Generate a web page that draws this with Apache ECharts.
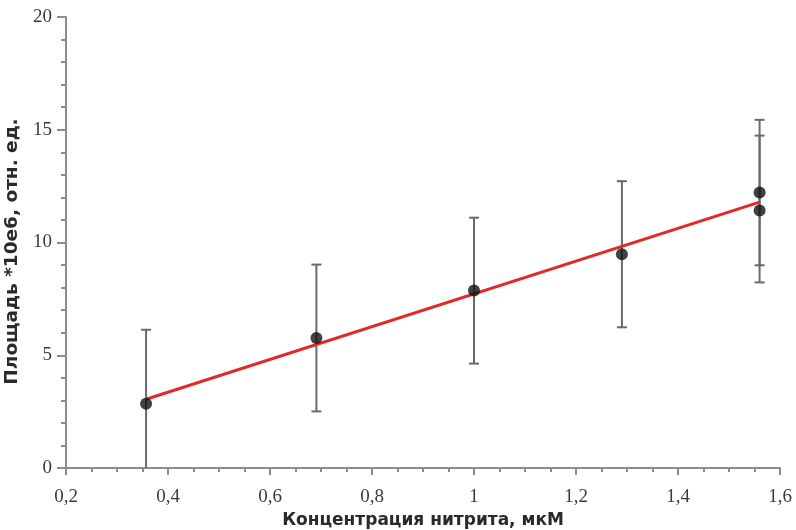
<!DOCTYPE html>
<html>
<head>
<meta charset="utf-8">
<script src="https://cdn.jsdelivr.net/npm/echarts@6/dist/echarts.min.js"></script>
<style>
  html, body { margin: 0; padding: 0; background: #fff; }
  #chart { width: 796px; height: 530px; }
</style>
</head>
<body>
<div id="chart"></div>
<script>
// measured points (concentration, area) with error bar ends
const concX = [0.357, 0.691, 1.0, 1.29, 1.56, 1.56];
const areaY = [2.85, 5.76, 7.87, 9.48, 12.22, 11.42];
const errTop = [6.13, 9.02, 11.1, 12.72, 15.44, 14.74];
const errBottom = [-0.4, 2.51, 4.63, 6.24, 8.99, 8.23];

// fitted line ends
const fitX = [0.357, 1.56];
const fitY = [3.05, 11.79];

const xTicks = { min: 0.2, max: 1.6, step: 0.2 };
const yTicks = { min: 0, max: 20, step: 5 };

const axisColor = '#8c8c8c';
const labelFont = 'Liberation Serif';

const chart = echarts.init(document.getElementById('chart'));

const fmt = v => String(+v.toFixed(1)).replace('.', ',');

const option = {
    animation: false,
    grid: { left: 66, right: 16, top: 17, bottom: 62, outerBoundsMode: 'none', containLabel: false },
    xAxis: {
        type: 'value',
        min: xTicks.min,
        max: xTicks.max,
        interval: xTicks.step,
        name: 'Концентрация нитрита, мкМ',
        nameLocation: 'middle',
        nameGap: 44,
        nameTextStyle: { fontFamily: 'DejaVu Sans', fontWeight: 'bold', fontSize: 17, color: '#2a2a2a' },
        axisLine: { lineStyle: { color: axisColor, width: 2 } },
        axisTick: { length: 7, lineStyle: { color: axisColor, width: 2 } },
        minorTick: { show: true, splitNumber: 4, length: 4, lineStyle: { color: axisColor, width: 2 } },
        splitLine: { show: false },
        axisLabel: { margin: 20, fontFamily: labelFont, fontSize: 19, color: '#3a3a3a', formatter: fmt }
    },
    yAxis: {
        type: 'value',
        min: yTicks.min,
        max: yTicks.max,
        interval: yTicks.step,
        name: 'Площадь *10е6, отн. ед.',
        nameLocation: 'middle',
        nameGap: 38,
        nameTextStyle: { fontFamily: 'DejaVu Sans', fontWeight: 'bold', fontSize: 18.5, color: '#2a2a2a', padding: [0, 18, 0, 0] },
        axisLine: { show: true, lineStyle: { color: axisColor, width: 2 } },
        axisTick: { show: true, length: 9, lineStyle: { color: axisColor, width: 2 } },
        minorTick: { show: true, splitNumber: 5, length: 5, lineStyle: { color: axisColor, width: 2 } },
        splitLine: { show: false },
        axisLabel: { margin: 14, fontFamily: labelFont, fontSize: 19, color: '#3a3a3a' }
    },
    series: [
        {
            type: 'custom',
            clip: true,
            z: 1,
            data: concX.map((x, i) => [x, errBottom[i], errTop[i]]),
            renderItem: (params, api) => {
                const lo = api.coord([api.value(0), api.value(1)]);
                const hi = api.coord([api.value(0), api.value(2)]);
                const w = 5;
                const st = { stroke: '#6a6a6a', lineWidth: 2 };
                return {
                    type: 'group',
                    children: [
                        { type: 'line', shape: { x1: lo[0], y1: lo[1], x2: hi[0], y2: hi[1] }, style: st },
                        { type: 'line', shape: { x1: hi[0] - w, y1: hi[1], x2: hi[0] + w, y2: hi[1] }, style: st },
                        { type: 'line', shape: { x1: lo[0] - w, y1: lo[1], x2: lo[0] + w, y2: lo[1] }, style: st }
                    ]
                };
            }
        },
        {
            type: 'line',
            z: 2,
            data: fitX.map((x, i) => [x, fitY[i]]),
            symbol: 'none',
            lineStyle: { color: '#e02a2a', width: 3 }
        },
        {
            type: 'scatter',
            z: 3,
            data: concX.map((x, i) => [x, areaY[i]]),
            symbol: 'circle',
            symbolSize: 12,
            itemStyle: { color: '#111' }
        }
    ]
};

chart.setOption(option);
</script>
</body>
</html>
